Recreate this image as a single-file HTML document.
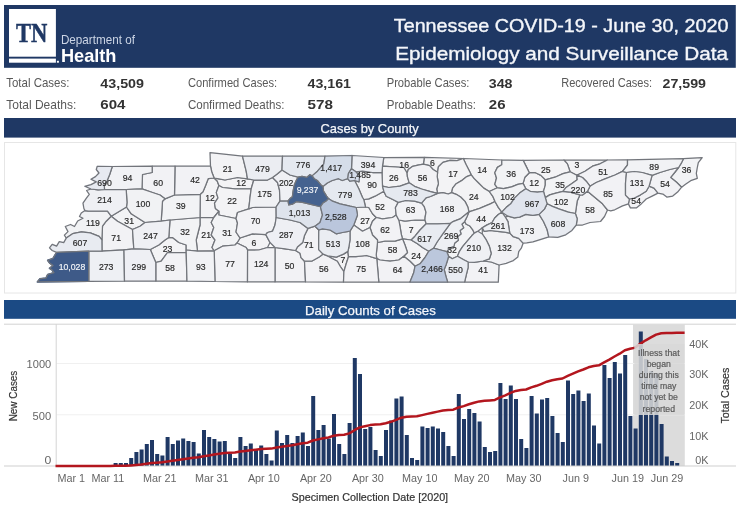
<!DOCTYPE html>
<html><head><meta charset="utf-8"><title>Tennessee COVID-19 - June 30, 2020</title>
<style>html,body{margin:0;padding:0;background:#fff}svg{display:block;will-change:transform;transform:translateZ(0)}</style></head>
<body>
<svg width="740" height="508" viewBox="0 0 740 508" font-family="Liberation Sans, sans-serif">
<rect width="740" height="508" fill="#fff"/>
<rect x="4" y="5" width="731.8" height="62.8" fill="#1f3864"/>
<rect x="9" y="9" width="46.9" height="47.7" fill="#fff"/>
<rect x="9" y="58.6" width="46.9" height="4.1" fill="#fff"/>
<rect x="56.9" y="60.8" width="2" height="1.9" fill="#fff"/>
<text x="15.9" y="41.8" font-family="Liberation Serif, serif" font-size="27" font-weight="bold" fill="#1f3864" stroke="#1f3864" stroke-width="0.45" textLength="31.4" lengthAdjust="spacingAndGlyphs">TN</text>
<text x="60.9" y="43.9" font-size="13.2" fill="#ccd5e5" textLength="74" lengthAdjust="spacingAndGlyphs">Department of</text>
<text x="60.9" y="62.2" font-size="18.2" font-weight="bold" fill="#fff" textLength="55.6" lengthAdjust="spacingAndGlyphs">Health</text>
<text x="393.8" y="32" font-size="18.2" fill="#f4f6fa" stroke="#f4f6fa" stroke-width="0.35" textLength="334.6" lengthAdjust="spacingAndGlyphs">Tennessee COVID-19 - June 30, 2020</text>
<text x="395.2" y="59.5" font-size="18.2" fill="#f4f6fa" stroke="#f4f6fa" stroke-width="0.35" textLength="332.8" lengthAdjust="spacingAndGlyphs">Epidemiology and Surveillance Data</text>
<text x="6.2" y="87.2" font-size="12.1" fill="#595959" textLength="63.2" lengthAdjust="spacingAndGlyphs">Total Cases:</text>
<text x="100.3" y="87.5" font-size="13" font-weight="bold" fill="#333" textLength="43.699999999999996" lengthAdjust="spacingAndGlyphs">43,509</text>
<text x="6.2" y="108.6" font-size="12.1" fill="#595959" textLength="70.2" lengthAdjust="spacingAndGlyphs">Total Deaths:</text>
<text x="100.3" y="108.6" font-size="13" font-weight="bold" fill="#333" textLength="25.2" lengthAdjust="spacingAndGlyphs">604</text>
<text x="187.89999999999998" y="87.2" font-size="12.1" fill="#595959" textLength="89.2" lengthAdjust="spacingAndGlyphs">Confirmed Cases:</text>
<text x="307.6" y="87.5" font-size="13" font-weight="bold" fill="#333" textLength="43.4" lengthAdjust="spacingAndGlyphs">43,161</text>
<text x="187.89999999999998" y="108.6" font-size="12.1" fill="#595959" textLength="96.5" lengthAdjust="spacingAndGlyphs">Confirmed Deaths:</text>
<text x="307.6" y="108.6" font-size="13" font-weight="bold" fill="#333" textLength="25.4" lengthAdjust="spacingAndGlyphs">578</text>
<text x="386.7" y="87.2" font-size="12.1" fill="#595959" textLength="82.7" lengthAdjust="spacingAndGlyphs">Probable Cases:</text>
<text x="488.8" y="87.5" font-size="13" font-weight="bold" fill="#333" textLength="23.7" lengthAdjust="spacingAndGlyphs">348</text>
<text x="386.7" y="108.6" font-size="12.1" fill="#595959" textLength="89.2" lengthAdjust="spacingAndGlyphs">Probable Deaths:</text>
<text x="488.8" y="108.6" font-size="13" font-weight="bold" fill="#333" textLength="16.7" lengthAdjust="spacingAndGlyphs">26</text>
<text x="561.2" y="87.2" font-size="12.1" fill="#595959" textLength="90.9" lengthAdjust="spacingAndGlyphs">Recovered Cases:</text>
<text x="662.6" y="87.5" font-size="13" font-weight="bold" fill="#333" textLength="43.4" lengthAdjust="spacingAndGlyphs">27,599</text>
<rect x="4" y="118" width="732" height="19.6" fill="#1f3864"/>
<text x="320.5" y="132.5" font-size="13" fill="#f4f6fa" stroke="#f4f6fa" stroke-width="0.25" textLength="98.2" lengthAdjust="spacingAndGlyphs">Cases by County</text>
<rect x="4.5" y="142.5" width="731.3" height="150.5" fill="#fff" stroke="#e6e6e6" stroke-width="1"/>
<g id="map" stroke-linejoin="round">
<path d="M56.6 252.3L88.8 251.2L88.8 281.3L37.4 281.9L39.8 278.9L46 278L47.7 274.5L53.9 272.7L52.2 270L49.5 268.3L53 265.6L49.5 262.9L47.7 260.3L53 258.5Z" fill="#3e5a88" stroke="#3e5a88" stroke-width="1.6"/>
<path d="M88.8 251.2L102 251.2L124 249.9L124.5 281.2L88.8 281.3Z" fill="#eef0f4" stroke="#eef0f4" stroke-width="1.6"/>
<path d="M124 249.9L133.8 248.8L150.3 249.5L155.8 262.5L155.8 281.2L124.5 281.2Z" fill="#eeeff4" stroke="#eeeff4" stroke-width="1.6"/>
<path d="M155.8 262.5L161.2 261.2L167.5 252.5L186.2 252.5L187 281.2L155.8 281.2Z" fill="#f2f2f5" stroke="#f2f2f5" stroke-width="1.6"/>
<path d="M186.2 250L197.5 251.2L214.2 250.8L215 281.5L187 281.2L186.2 252.5Z" fill="#f1f2f5" stroke="#f1f2f5" stroke-width="1.6"/>
<path d="M56.6 252.3L52.2 250.5L49.5 247.9L52.2 244.3L56.6 246.1L59.3 241.7L63.7 242.6L66.3 238.1L72.6 233.7L81.4 231.9L90.3 232.8L99.1 236.3L101.9 239.9L102 251.2L88.8 251.2Z" fill="#e8ebf1" stroke="#e8ebf1" stroke-width="1.6"/>
<path d="M66.3 238.1L64.4 235.1L68 231.6L65.3 226.5L70.6 224.5L74.5 226.5L77.7 221L83 218.3L79.5 216.5L81.3 213L85 210.6L88.4 211.2L97.2 211.2L107.5 211.2L111.2 216.2L106.2 221.2L102.5 226.2L101.9 239.9L99.1 236.3L90.3 232.8L81.4 231.9L72.6 233.7Z" fill="#f1f2f4" stroke="#f1f2f4" stroke-width="1.6"/>
<path d="M102.5 226.2L106.2 221.2L111.2 216.2L117.5 221.2L132.5 229.5L133.8 248.8L124 249.9L102 251.2L101.9 239.9Z" fill="#f2f2f5" stroke="#f2f2f5" stroke-width="1.6"/>
<path d="M111.2 216.2L126.5 207L131.2 213.8L145 222.5L140 226.2L132.5 229.5L117.5 221.2Z" fill="#f2f3f5" stroke="#f2f3f5" stroke-width="1.6"/>
<path d="M88.4 211.2L85 210.6L83.9 208.5L83 203.2L86.6 197.9L89.3 194.3L86.6 190.5L91 189L98.1 189.9L104.5 189.5L126.2 189.5L127 202.5L126.5 207L111.2 216.2L107.5 211.2L97.2 211.2Z" fill="#eff0f4" stroke="#eff0f4" stroke-width="1.6"/>
<path d="M97.2 166.3L112.3 166.5L109.6 174.8L107 181L104.3 185.5L104.5 189.5L98.1 189.9L91 189L84.8 186.3L91 184.6L96.3 181.9L91 179.3L95.5 176.6L99 173L96.3 169.5Z" fill="#e7eaf1" stroke="#e7eaf1" stroke-width="1.6"/>
<path d="M112.3 166.5L152.2 166.2L152.2 172.5L142.5 174.5L142 188.8L126.2 189.5L104.5 189.5L104.3 185.5L107 181L109.6 174.8Z" fill="#f1f2f5" stroke="#f1f2f5" stroke-width="1.6"/>
<path d="M152.2 166.2L175 166.2L174.5 195L165 198.8L160 195L152.5 192.5L142 188.8L142.5 174.5L152.2 172.5Z" fill="#f2f2f5" stroke="#f2f2f5" stroke-width="1.6"/>
<path d="M175 166.2L210.5 166.2L211.8 172L214.1 178L208.3 178.6L205.6 185.5L203 191.7L200.3 194.3L174.5 195Z" fill="#f2f2f5" stroke="#f2f2f5" stroke-width="1.6"/>
<path d="M126.2 189.5L142 188.8L152.5 192.5L160 195L165 198.8L162.5 201.2L161.2 221.2L145 222.5L131.2 213.8L126.5 207L127 202.5Z" fill="#f1f2f4" stroke="#f1f2f4" stroke-width="1.6"/>
<path d="M165 198.8L174.5 195L200.3 194.3L200 217.5L170 220L161.2 221.2L162.5 201.2Z" fill="#f2f3f5" stroke="#f2f3f5" stroke-width="1.6"/>
<path d="M145 222.5L161.2 221.2L170 220L168.8 237.5L165 240L158.8 245L150.3 249.5L133.8 248.8L132.5 229.5L140 226.2Z" fill="#eff0f4" stroke="#eff0f4" stroke-width="1.6"/>
<path d="M170 220L200 217.5L200 225L196.2 240L197.5 251.2L186.2 250L186.2 245L178.8 242.5L172.5 237.5L168.8 237.5Z" fill="#f2f3f5" stroke="#f2f3f5" stroke-width="1.6"/>
<path d="M150.3 249.5L158.8 245L165 240L168.8 237.5L172.5 237.5L178.8 242.5L186.2 245L186.2 250L186.2 252.5L167.5 252.5L161.2 261.2L155.8 262.5Z" fill="#f3f3f5" stroke="#f3f3f5" stroke-width="1.6"/>
<path d="M200 217.5L213.8 217.5L211.2 222.5L213.8 227.5L211.2 235L215 240L212 247.5L214.2 250.8L197.5 251.2L196.2 240L200 225Z" fill="#f3f3f5" stroke="#f3f3f5" stroke-width="1.6"/>
<path d="M200.3 194.3L203 191.7L205.6 185.5L208.3 178.6L214.1 178L217.2 181L218.9 185.5L216.3 192.6L218 197.9L214.5 203.2L215.4 208.5L218.9 211.2L213.8 217.5L200 217.5Z" fill="#f3f3f5" stroke="#f3f3f5" stroke-width="1.6"/>
<path d="M210 152.6L242.5 156.2L246.2 171.2L247.5 178.8L237.5 177.5L225 180L218.8 178.8L214.1 178L211.8 172L210.5 166.2Z" fill="#f3f3f5" stroke="#f3f3f5" stroke-width="1.6"/>
<path d="M242.5 156.2L282.5 156.2L282 170L277.5 173.8L272.5 177.5L267.5 180L253.8 180L247.5 178.8L246.2 171.2Z" fill="#ebedf2" stroke="#ebedf2" stroke-width="1.6"/>
<path d="M218.8 178.8L225 180L237.5 177.5L247.5 178.8L253.8 180L251.2 188.8L235 188.8L222.5 187.5L218.9 185.5L217.2 181L214.1 178Z" fill="#f3f3f5" stroke="#f3f3f5" stroke-width="1.6"/>
<path d="M218.9 185.5L222.5 187.5L235 188.8L251.2 188.8L250 197.5L248.8 208.8L237.5 212.5L236 218.5L218.8 215L218.9 211.2L215.4 208.5L214.5 203.2L218 197.9L216.3 192.6Z" fill="#f3f3f5" stroke="#f3f3f5" stroke-width="1.6"/>
<path d="M253.8 180L267.5 180L272.5 177.5L277.5 182.5L279.5 190L280 201.2L276.1 207L252.5 207.5L248.8 208.8L250 197.5L251.2 188.8Z" fill="#f0f1f4" stroke="#f0f1f4" stroke-width="1.6"/>
<path d="M282.5 156.2L325 156.2L323.8 163.8L317.5 171.2L312.1 175.9L309.9 174.7L306.7 177.4L302 176.3L298 177.2L290 175L282 170Z" fill="#e5e9f0" stroke="#e5e9f0" stroke-width="1.6"/>
<path d="M325 156.2L352 155.5L351.5 168.7L348.4 173.7L347.8 178.7L342.2 180.5L338.5 178.7L332.2 180.5L327.3 183L322.9 186.4L321 184.9L317.3 180.5L314.2 178.7L312.1 175.9L317.5 171.2L323.8 163.8Z" fill="#d5dde9" stroke="#d5dde9" stroke-width="1.6"/>
<path d="M296.2 180.5L298 177.2L302 176.3L306.7 177.4L309.9 174.7L312.1 175.9L314.2 178.7L317.3 180.5L321 184.9L322.9 186.4L323.5 191.1L326.6 196.1L328.5 198.6L326 201L322.9 202.9L320.4 206.6L317.3 206L309.9 204.2L302.4 202.3L296.2 201.7L292.4 204.2L288.7 204.8L288.1 201L290 198.6L292.4 196.7L293.1 191.1L294.3 184.9Z" fill="#45628f" stroke="#45628f" stroke-width="1.6"/>
<path d="M282 170L290 175L298 177.2L296.2 180.5L294.3 184.9L293.1 191.1L292.4 196.7L290 198.6L288.1 201L283.8 201.2L280 201.2L279.5 190L277.5 182.5L272.5 177.5L277.5 173.8Z" fill="#eff0f4" stroke="#eff0f4" stroke-width="1.6"/>
<path d="M280 201.2L283.8 201.2L288.1 201L288.7 204.8L292.4 204.2L296.2 201.7L302.4 202.3L309.9 204.2L317.3 206L320.4 206.6L322.5 215L320 222.5L315 226.2L308 228.4L300 222.5L290 220L276.2 217.5L276.1 207Z" fill="#dee3ec" stroke="#dee3ec" stroke-width="1.6"/>
<path d="M320.4 206.6L322.9 202.9L326 201L328.5 198.6L332.5 201.2L340 203.8L350 206.2L356.2 207.5L357.5 215L353.8 225L350 231.2L342.5 232.5L336.2 233.8L330 230L322.5 228.8L318.8 230L315 226.2L320 222.5L322.5 215Z" fill="#bac6dc" stroke="#bac6dc" stroke-width="1.6"/>
<path d="M322.9 186.4L327.3 183L332.2 180.5L338.5 178.7L342.2 180.5L347.8 178.7L349.7 181.1L354.6 180.5L358.8 188.8L362.5 197.5L363.8 199.5L365.5 207L356.2 207.5L350 206.2L340 203.8L332.5 201.2L328.5 198.6L326.6 196.1L323.5 191.1Z" fill="#e5e9f0" stroke="#e5e9f0" stroke-width="1.6"/>
<path d="M351.5 168.7L355.9 171.8L359.6 176.2L359 181.8L354.6 180.5L349.7 181.1L347.8 178.7L348.4 173.7Z" fill="#d3dbe9" stroke="#d3dbe9" stroke-width="1.6"/>
<path d="M352 155.5L383.8 157.5L382.5 166.2L382 172.5L372.5 172.5L362.5 171.2L355.9 171.8L351.5 168.7Z" fill="#eceef3" stroke="#eceef3" stroke-width="1.6"/>
<path d="M355.9 171.8L362.5 171.2L372.5 172.5L382 172.5L382.5 186.2L383.8 191.2L375 196.2L368.8 198.8L363.8 199.5L362.5 197.5L358.8 188.8L354.6 180.5L359 181.8L359.6 176.2Z" fill="#f1f2f5" stroke="#f1f2f5" stroke-width="1.6"/>
<path d="M363.8 199.5L368.8 198.8L375 196.2L383.8 191.2L386.2 196.2L393.8 200L398.2 202.4L395.4 207.7L396.2 215L392.5 217.5L382.5 218.8L376.2 217.5L372.5 213.8L368.8 207.5L365.5 207Z" fill="#f2f2f5" stroke="#f2f2f5" stroke-width="1.6"/>
<path d="M356.2 207.5L365.5 207L368.8 207.5L372.5 213.8L376.2 217.5L372.5 221.2L370 227.5L362.5 231.2L353.8 225L357.5 215Z" fill="#f3f3f5" stroke="#f3f3f5" stroke-width="1.6"/>
<path d="M350 231.2L353.8 225L362.5 231.2L370 227.5L372.5 235L377.5 240L377.5 242.5L376.2 255L376.8 258.7L366.6 255.5L355.9 256.7L348.5 256.7L347.9 251.4L348.8 247.5L350 240Z" fill="#f1f2f4" stroke="#f1f2f4" stroke-width="1.6"/>
<path d="M318.8 230L322.5 228.8L330 230L336.2 233.8L342.5 232.5L350 231.2L350 240L348.8 247.5L347.9 251.4L343.5 254.1L336.4 257.1L327.6 255.9L323.1 254.1L318.7 249.6L318.7 240Z" fill="#eaedf2" stroke="#eaedf2" stroke-width="1.6"/>
<path d="M308 228.4L315 226.2L318.8 230L318.7 240L318.7 249.6L323.1 254.1L319.6 256.7L311.6 261.2L304.5 261.2L301 257.6L300 253.2L295.6 250.5L297.4 247L302.7 242.6L304.5 235.5Z" fill="#f2f2f5" stroke="#f2f2f5" stroke-width="1.6"/>
<path d="M276.2 217.5L290 220L300 222.5L308 228.4L304.5 235.5L302.7 242.6L297.4 247L295.6 250.5L285 248.8L275 247.5L270 242.5L265.8 234.6L267.5 232.5L272.5 231.2L275 225Z" fill="#eeeff4" stroke="#eeeff4" stroke-width="1.6"/>
<path d="M248.8 208.8L252.5 207.5L276.1 207L276.2 217.5L275 225L272.5 231.2L267.5 232.5L265.8 234.6L252.5 233.8L240 238L236 232L237.5 223L236 218.5L237.5 212.5Z" fill="#f2f2f5" stroke="#f2f2f5" stroke-width="1.6"/>
<path d="M213.8 217.5L218.9 211.2L218.8 215L236 218.5L237.5 223L236 232L240 238L237 243L235 245L222.5 246.2L214.2 250.8L212 247.5L215 240L211.2 235L213.8 227.5L211.2 222.5Z" fill="#f2f3f5" stroke="#f2f3f5" stroke-width="1.6"/>
<path d="M240 238L252.5 233.8L265.8 234.6L270 242.5L267.5 247.5L258.8 250L247.6 250.1L246.2 247.5L237 243Z" fill="#f3f3f5" stroke="#f3f3f5" stroke-width="1.6"/>
<path d="M214.2 250.8L222.5 246.2L235 245L237 243L246.2 247.5L247.6 250.1L247.5 281.8L215 281.5Z" fill="#f2f2f5" stroke="#f2f2f5" stroke-width="1.6"/>
<path d="M247.6 250.1L258.8 250L267.5 247.5L275 247.5L275 281.8L247.5 281.8Z" fill="#f1f1f4" stroke="#f1f1f4" stroke-width="1.6"/>
<path d="M275 247.5L285 248.8L295.6 250.5L300 253.2L301 257.6L304.5 261.2L305.5 281.8L275 281.8Z" fill="#f2f2f5" stroke="#f2f2f5" stroke-width="1.6"/>
<path d="M304.5 261.2L311.6 261.2L319.6 256.7L323.1 254.1L327.6 255.9L332 258.5L337.3 261.2L340.3 266.5L343.9 271.6L343.5 282L305.5 281.8Z" fill="#f2f2f5" stroke="#f2f2f5" stroke-width="1.6"/>
<path d="M327.6 255.9L336.4 257.1L343.5 254.1L347.9 251.4L348.5 256.7L346.2 263.8L343.9 271.6L340.3 266.5L337.3 261.2L332 258.5Z" fill="#f3f3f5" stroke="#f3f3f5" stroke-width="1.6"/>
<path d="M343.9 271.6L346.2 263.8L348.5 256.7L355.9 256.7L366.6 255.5L376.8 258.7L378.8 282L343.5 282Z" fill="#f2f2f5" stroke="#f2f2f5" stroke-width="1.6"/>
<path d="M377.5 242.5L385 241.2L395 241.2L402.5 238.8L405 245L407.5 252.5L403.8 256.2L398.8 260L390 261.2L380 260L376.8 258.7L376.2 255Z" fill="#f2f2f5" stroke="#f2f2f5" stroke-width="1.6"/>
<path d="M376.8 258.7L380 260L390 261.2L398.8 260L403.8 256.2L410 261.2L415 266.2L413.8 272.5L410 282.1L378.8 282Z" fill="#f2f2f5" stroke="#f2f2f5" stroke-width="1.6"/>
<path d="M402.5 238.8L411.2 240L417.5 243.8L422.5 247.5L428.8 251.2L425 257.5L420 263.8L415 266.2L410 261.2L403.8 256.2L407.5 252.5L405 245Z" fill="#f3f3f5" stroke="#f3f3f5" stroke-width="1.6"/>
<path d="M376.2 217.5L382.5 218.8L392.5 217.5L396.2 215L398.8 220L400 226.2L401.2 233.8L402.5 238.8L395 241.2L385 241.2L377.5 242.5L377.5 240L372.5 235L370 227.5L372.5 221.2Z" fill="#f2f2f5" stroke="#f2f2f5" stroke-width="1.6"/>
<path d="M398.8 220L405 221.2L415 220L425 220L426.2 223.8L420 230L415 236.2L411.2 240L402.5 238.8L401.2 233.8L400 226.2Z" fill="#f3f3f5" stroke="#f3f3f5" stroke-width="1.6"/>
<path d="M426.2 223.8L430 223.8L437.5 223.8L450.4 223.4L443.3 233.1L437.1 242L433.5 248.2L428.8 251.2L422.5 247.5L417.5 243.8L411.2 240L415 236.2L420 230Z" fill="#e8ebf1" stroke="#e8ebf1" stroke-width="1.6"/>
<path d="M428.8 251.2L433.5 248.2L440.6 250L446.8 251.7L448.6 256.2L447.7 259.7L446 265L444.2 269.5L446 276.6L447.7 282.2L410 282.1L413.8 272.5L415 266.2L420 263.8L425 257.5Z" fill="#bbc7dc" stroke="#bbc7dc" stroke-width="1.6"/>
<path d="M450.4 223.4L453 221.6L460.1 218.9L469 211.8L467.2 216.3L464.6 221.6L461.9 224.3L463.7 227.8L460.1 230.5L461 234L457.5 236.7L458.4 240.2L454.8 242.9L453.9 246.4L449.5 248.2L446.8 251.7L440.6 250L433.5 248.2L437.1 242L443.3 233.1Z" fill="#eef0f4" stroke="#eef0f4" stroke-width="1.6"/>
<path d="M464.6 221.6L466.3 224.3L469.9 226L472.6 229.6L474.3 233.1L471.7 235.8L467.2 241.1L462.8 246.4L459.3 251.7L457.5 256.2L452.2 258.8L448.6 256.2L446.8 251.7L449.5 248.2L453.9 246.4L454.8 242.9L458.4 240.2L457.5 236.7L461 234L460.1 230.5L463.7 227.8L461.9 224.3Z" fill="#f2f3f5" stroke="#f2f3f5" stroke-width="1.6"/>
<path d="M448.6 256.2L452.2 258.8L457.5 256.2L463.7 259.7L468.1 262L468.1 267.7L466.3 274.8L464.6 282.2L447.7 282.2L446 276.6L444.2 269.5L446 265L447.7 259.7Z" fill="#e9ecf2" stroke="#e9ecf2" stroke-width="1.6"/>
<path d="M468.1 262L474.3 262.4L483.2 261L491.2 262L499.1 265L498.3 282.2L464.6 282.2L466.3 274.8L468.1 267.7Z" fill="#f2f2f5" stroke="#f2f2f5" stroke-width="1.6"/>
<path d="M474.3 233.1L477.9 231.3L482.3 234L485.9 239.3L489.4 246.4L491.2 253.5L489.4 258.8L483.2 261L474.3 262.4L468.1 262L463.7 259.7L457.5 256.2L459.3 251.7L462.8 246.4L467.2 241.1L471.7 235.8Z" fill="#eff0f4" stroke="#eff0f4" stroke-width="1.6"/>
<path d="M482.3 234L482.3 227.8L484.1 231.3L490.3 230.5L497.4 231.3L504.5 232.2L509.8 233.1L513.3 236.7L518.7 238.4L523.1 243.2L521.3 248.2L518.7 251.7L517.8 257.1L513.3 260.6L506.2 263.3L499.1 265L491.2 262L483.2 261L489.4 258.8L491.2 253.5L489.4 246.4L485.9 239.3Z" fill="#f1f1f4" stroke="#f1f1f4" stroke-width="1.6"/>
<path d="M514.3 217.9L519.6 217.1L525.8 214.4L532.9 215.3L539.1 214.4L543.5 221.5L547.1 229.5L548.8 236.9L541.7 239.2L532.9 241.9L526.7 242.8L523.1 243.2L518.7 238.4L513.3 236.7L509.8 233.1L508.9 227.8L508 221.6L505.4 217.2L508 216.2Z" fill="#f0f1f4" stroke="#f0f1f4" stroke-width="1.6"/>
<path d="M492.1 222.5L494.7 218L498.3 214.5L501.8 212.2L505.4 217.2L508 221.6L508.9 227.8L509.8 233.1L504.5 232.2L497.4 231.3L490.3 230.5L484.1 231.3L482.3 227.8L486.7 225.1Z" fill="#eef0f4" stroke="#eef0f4" stroke-width="1.6"/>
<path d="M525.8 188.7L530.2 191.3L537.3 192.2L543.5 191.3L545.3 197.6L547.1 203.8L544.4 209.1L539.1 214.4L532.9 215.3L525.8 214.4L519.6 217.1L514.3 217.9L508 216.2L501.8 212.2L506.3 207.3L510.7 203.8L514.3 198.4L519.6 193.1Z" fill="#e0e4ed" stroke="#e0e4ed" stroke-width="1.6"/>
<path d="M489.3 191.5L497.4 187.8L503.6 188.7L511.6 186.9L517.8 184.3L523.1 183.4L525.8 188.7L519.6 193.1L514.3 198.4L510.7 203.8L506.3 207.3L501.8 212.2L498.3 207.4L495 201.5L493 196.7Z" fill="#f1f2f4" stroke="#f1f2f4" stroke-width="1.6"/>
<path d="M469 211.8L479.6 208.3L490.3 203.9L495 201.5L498.3 207.4L501.8 212.2L498.3 214.5L494.7 218L492.1 222.5L486.7 225.1L482.3 227.8L477.9 231.3L474.3 233.1L472.6 229.6L469.9 226L466.3 224.3L464.6 221.6L467.2 216.3Z" fill="#f2f2f5" stroke="#f2f2f5" stroke-width="1.6"/>
<path d="M471.2 174.8L473.9 178.4L478.3 182.8L483.7 188.1L489.3 191.5L493 196.7L495 201.5L490.3 203.9L479.6 208.3L469 211.8L467.7 206.7L465 201.4L460.6 197L456.2 194.3L451.7 192.6L452.6 188.1L456.2 183.7L462.4 180.1L466.8 176.6Z" fill="#f3f3f5" stroke="#f3f3f5" stroke-width="1.6"/>
<path d="M437.6 193.4L442.9 192.6L448.2 194L451.7 192.6L456.2 194.3L460.6 197L465 201.4L467.7 206.7L469 211.8L460.1 218.9L453 221.6L450.4 223.4L437.5 223.8L430 223.8L426.2 223.8L425 220L425.1 217.4L426 212.1L424.3 206.7L421.6 203.2L426 197.9L430.5 196.5Z" fill="#f0f1f4" stroke="#f0f1f4" stroke-width="1.6"/>
<path d="M463.3 158.5L465.9 164.2L469.5 171.3L471.2 174.8L466.8 176.6L462.4 180.1L456.2 183.7L452.6 188.1L451.7 192.6L448.2 194L442.9 192.6L437.6 193.4L436.7 189L438.4 183.7L437.2 176.6L437.6 172.2L438.4 166.8L442.9 162.4L450 160.3L457.1 160.6Z" fill="#f3f3f5" stroke="#f3f3f5" stroke-width="1.6"/>
<path d="M463.3 158.5L501.8 160L501.8 164.8L497.4 167.4L494.8 172.7L496.5 178L494.8 184.3L497.4 187.8L489.3 191.5L483.7 188.1L478.3 182.8L473.9 178.4L471.2 174.8L469.5 171.3L465.9 164.2Z" fill="#f3f3f5" stroke="#f3f3f5" stroke-width="1.6"/>
<path d="M501.8 160L523.1 160.3L525.8 165.6L529.3 172.7L524.9 177.2L523.1 183.4L517.8 184.3L511.6 186.9L503.6 188.7L497.4 187.8L494.8 184.3L496.5 178L494.8 172.7L497.4 167.4L501.8 164.8Z" fill="#f2f3f5" stroke="#f2f3f5" stroke-width="1.6"/>
<path d="M529.3 172.7L535.5 172.7L540.9 175.4L545.3 179.8L545.3 185.1L543.5 191.3L537.3 192.2L530.2 191.3L525.8 188.7L523.1 183.4L524.9 177.2Z" fill="#f3f3f5" stroke="#f3f3f5" stroke-width="1.6"/>
<path d="M523.1 160.3L563.9 160L567.4 163.9L570.1 171.8L563 173.6L555 177.2L545.3 179.8L540.9 175.4L535.5 172.7L529.3 172.7L525.8 165.6Z" fill="#f3f3f5" stroke="#f3f3f5" stroke-width="1.6"/>
<path d="M563.9 160L607.5 160L600 163.8L592.5 166.2L585 171.2L576.8 175.2L570.1 171.8L567.4 163.9Z" fill="#f3f3f5" stroke="#f3f3f5" stroke-width="1.6"/>
<path d="M607.5 160L627.5 159.8L627.5 165L622.5 171.4L615 175L605 178.8L596.2 182.5L590 186.2L586.2 181.2L582.5 177.5L576.8 175.2L585 171.2L592.5 166.2L600 163.8Z" fill="#f2f2f5" stroke="#f2f2f5" stroke-width="1.6"/>
<path d="M545.3 179.8L555 177.2L563 173.6L570.1 171.8L576.8 175.2L577.2 179.8L571.9 183.4L565.7 187.8L563 191.3L555.9 193.1L549.7 194.9L545.3 197.6L543.5 191.3L545.3 185.1Z" fill="#f2f3f5" stroke="#f2f3f5" stroke-width="1.6"/>
<path d="M571.9 183.4L577.2 179.8L576.8 175.2L582.5 177.5L586.2 181.2L590 186.2L587.5 191.2L582.5 195L579.9 194.9L570.1 192.2L563 191.3L565.7 187.8Z" fill="#eff0f4" stroke="#eff0f4" stroke-width="1.6"/>
<path d="M545.3 197.6L549.7 194.9L555.9 193.1L563 191.3L570.1 192.2L579.9 194.9L577.2 201.1L576.3 207.3L575.4 213.5L568.3 212.1L559.5 209.1L552.4 206.4L547.1 203.8Z" fill="#f1f2f4" stroke="#f1f2f4" stroke-width="1.6"/>
<path d="M539.1 214.4L544.4 209.1L547.1 203.8L552.4 206.4L559.5 209.1L568.3 212.1L575.4 213.5L577.2 218.8L576.3 225L571.9 230.4L565.7 234.8L557.7 237.4L548.8 236.9L547.1 229.5L543.5 221.5Z" fill="#e8ebf1" stroke="#e8ebf1" stroke-width="1.6"/>
<path d="M575.4 213.5L576.3 207.3L577.2 201.1L579.9 194.9L582.5 195L587.5 191.2L595 197.5L602.5 203.8L607.5 210L604.5 216.5L600.5 221.5L590 222.5L582.5 225L576.3 225L577.2 218.8Z" fill="#f2f2f5" stroke="#f2f2f5" stroke-width="1.6"/>
<path d="M587.5 191.2L590 186.2L596.2 182.5L605 178.8L615 175L622.5 171.4L626.5 172.5L625.5 183.3L625.5 195.1L629.4 199L628.4 203.9L622.5 205.9L614.7 209.8L610.7 210.8L607.5 210L602.5 203.8L595 197.5Z" fill="#f2f2f5" stroke="#f2f2f5" stroke-width="1.6"/>
<path d="M627.5 159.8L683.5 158.7L681.6 162.6L678.6 167.5L669.8 169.5L659.9 172.5L652.1 175.4L642.2 172.5L634.3 171.5L626.5 172.5L622.5 171.4L627.5 165Z" fill="#f1f2f5" stroke="#f1f2f5" stroke-width="1.6"/>
<path d="M626.5 172.5L634.3 171.5L642.2 172.5L652.1 175.4L649.1 186.2L646.2 191.2L640.2 195.1L634.3 198L629.4 199L625.5 195.1L625.5 183.3Z" fill="#f1f1f4" stroke="#f1f1f4" stroke-width="1.6"/>
<path d="M629.4 199L634.3 198L640.2 195.1L646.2 191.2L649.1 186.2L654 188.2L658 193.1L652.1 196.1L646.2 199L641.2 203.9L636.3 207.9L630.4 207.9L628.4 203.9Z" fill="#f2f2f5" stroke="#f2f2f5" stroke-width="1.6"/>
<path d="M652.1 175.4L659.9 172.5L669.8 169.5L678.6 167.5L674.7 172.5L670.7 177.4L676.6 182.3L681.6 187.2L677.6 192.1L672.7 196.1L666.8 197.1L662.9 194.1L658 193.1L654 188.2L649.1 186.2Z" fill="#f2f2f5" stroke="#f2f2f5" stroke-width="1.6"/>
<path d="M683.5 158.7L702.2 157.7L698.3 162.6L697.3 167.5L696.3 173.4L697.3 178.4L691.4 180.3L685.5 184.3L681.6 187.2L676.6 182.3L670.7 177.4L674.7 172.5L678.6 167.5L681.6 162.6Z" fill="#f2f3f5" stroke="#f2f3f5" stroke-width="1.6"/>
<path d="M383.8 157.5L424.3 157.4L423.4 164.2L418 165.1L412.7 166.3L408.3 169.5L407.1 173L403.8 167.5L382.5 166.2Z" fill="#f3f3f5" stroke="#f3f3f5" stroke-width="1.6"/>
<path d="M424.3 157.4L463.3 158.5L457.1 160.6L450 160.3L442.9 162.4L438.4 166.8L437.6 172.2L433.1 169.5L429.6 165.6L423.4 164.2Z" fill="#f3f3f5" stroke="#f3f3f5" stroke-width="1.6"/>
<path d="M382.5 166.2L403.8 167.5L407.1 173L407.4 176.6L409.2 182.8L400 186.2L388.8 187.5L382.5 186.2L382 172.5Z" fill="#f3f3f5" stroke="#f3f3f5" stroke-width="1.6"/>
<path d="M408.3 169.5L412.7 166.3L418 165.1L423.4 164.2L429.6 165.6L433.1 169.5L437.6 172.2L437.2 176.6L438.4 183.7L436.7 189L437.6 193.4L430.5 191.7L421.6 189L414.5 186.3L409.2 182.8L407.4 176.6L407.1 173Z" fill="#f2f2f5" stroke="#f2f2f5" stroke-width="1.6"/>
<path d="M382.5 186.2L388.8 187.5L400 186.2L409.2 182.8L414.5 186.3L421.6 189L430.5 191.7L437.6 193.4L430.5 196.5L426 197.9L421.6 203.2L414.5 201.1L405.6 200.5L398.2 202.4L393.8 200L386.2 196.2L383.8 191.2Z" fill="#e5e9f0" stroke="#e5e9f0" stroke-width="1.6"/>
<path d="M395.4 207.7L398.2 202.4L405.6 200.5L414.5 201.1L421.6 203.2L424.3 206.7L426 212.1L425.1 217.4L425 220L415 220L405 221.2L398.8 220L396.2 215Z" fill="#f2f2f5" stroke="#f2f2f5" stroke-width="1.6"/>
<path d="M563.9 160L607.5 160L600 163.8L592.5 166.2L585 171.2L576.8 175.2L570.1 171.8L567.4 163.9Z" fill="#f3f3f5" stroke="#72757b" stroke-width="1.25"/>
<path d="M240 238L252.5 233.8L265.8 234.6L270 242.5L267.5 247.5L258.8 250L247.6 250.1L246.2 247.5L237 243Z" fill="#f3f3f5" stroke="#72757b" stroke-width="1.25"/>
<path d="M424.3 157.4L463.3 158.5L457.1 160.6L450 160.3L442.9 162.4L438.4 166.8L437.6 172.2L433.1 169.5L429.6 165.6L423.4 164.2Z" fill="#f3f3f5" stroke="#72757b" stroke-width="1.25"/>
<path d="M327.6 255.9L336.4 257.1L343.5 254.1L347.9 251.4L348.5 256.7L346.2 263.8L343.9 271.6L340.3 266.5L337.3 261.2L332 258.5Z" fill="#f3f3f5" stroke="#72757b" stroke-width="1.25"/>
<path d="M398.8 220L405 221.2L415 220L425 220L426.2 223.8L420 230L415 236.2L411.2 240L402.5 238.8L401.2 233.8L400 226.2Z" fill="#f3f3f5" stroke="#72757b" stroke-width="1.25"/>
<path d="M200.3 194.3L203 191.7L205.6 185.5L208.3 178.6L214.1 178L217.2 181L218.9 185.5L216.3 192.6L218 197.9L214.5 203.2L215.4 208.5L218.9 211.2L213.8 217.5L200 217.5Z" fill="#f3f3f5" stroke="#72757b" stroke-width="1.25"/>
<path d="M218.8 178.8L225 180L237.5 177.5L247.5 178.8L253.8 180L251.2 188.8L235 188.8L222.5 187.5L218.9 185.5L217.2 181L214.1 178Z" fill="#f3f3f5" stroke="#72757b" stroke-width="1.25"/>
<path d="M529.3 172.7L535.5 172.7L540.9 175.4L545.3 179.8L545.3 185.1L543.5 191.3L537.3 192.2L530.2 191.3L525.8 188.7L523.1 183.4L524.9 177.2Z" fill="#f3f3f5" stroke="#72757b" stroke-width="1.25"/>
<path d="M463.3 158.5L501.8 160L501.8 164.8L497.4 167.4L494.8 172.7L496.5 178L494.8 184.3L497.4 187.8L489.3 191.5L483.7 188.1L478.3 182.8L473.9 178.4L471.2 174.8L469.5 171.3L465.9 164.2Z" fill="#f3f3f5" stroke="#72757b" stroke-width="1.25"/>
<path d="M383.8 157.5L424.3 157.4L423.4 164.2L418 165.1L412.7 166.3L408.3 169.5L407.1 173L403.8 167.5L382.5 166.2Z" fill="#f3f3f5" stroke="#72757b" stroke-width="1.25"/>
<path d="M463.3 158.5L465.9 164.2L469.5 171.3L471.2 174.8L466.8 176.6L462.4 180.1L456.2 183.7L452.6 188.1L451.7 192.6L448.2 194L442.9 192.6L437.6 193.4L436.7 189L438.4 183.7L437.2 176.6L437.6 172.2L438.4 166.8L442.9 162.4L450 160.3L457.1 160.6Z" fill="#f3f3f5" stroke="#72757b" stroke-width="1.25"/>
<path d="M200 217.5L213.8 217.5L211.2 222.5L213.8 227.5L211.2 235L215 240L212 247.5L214.2 250.8L197.5 251.2L196.2 240L200 225Z" fill="#f3f3f5" stroke="#72757b" stroke-width="1.25"/>
<path d="M210 152.6L242.5 156.2L246.2 171.2L247.5 178.8L237.5 177.5L225 180L218.8 178.8L214.1 178L211.8 172L210.5 166.2Z" fill="#f3f3f5" stroke="#72757b" stroke-width="1.25"/>
<path d="M218.9 185.5L222.5 187.5L235 188.8L251.2 188.8L250 197.5L248.8 208.8L237.5 212.5L236 218.5L218.8 215L218.9 211.2L215.4 208.5L214.5 203.2L218 197.9L216.3 192.6Z" fill="#f3f3f5" stroke="#72757b" stroke-width="1.25"/>
<path d="M150.3 249.5L158.8 245L165 240L168.8 237.5L172.5 237.5L178.8 242.5L186.2 245L186.2 250L186.2 252.5L167.5 252.5L161.2 261.2L155.8 262.5Z" fill="#f3f3f5" stroke="#72757b" stroke-width="1.25"/>
<path d="M402.5 238.8L411.2 240L417.5 243.8L422.5 247.5L428.8 251.2L425 257.5L420 263.8L415 266.2L410 261.2L403.8 256.2L407.5 252.5L405 245Z" fill="#f3f3f5" stroke="#72757b" stroke-width="1.25"/>
<path d="M471.2 174.8L473.9 178.4L478.3 182.8L483.7 188.1L489.3 191.5L493 196.7L495 201.5L490.3 203.9L479.6 208.3L469 211.8L467.7 206.7L465 201.4L460.6 197L456.2 194.3L451.7 192.6L452.6 188.1L456.2 183.7L462.4 180.1L466.8 176.6Z" fill="#f3f3f5" stroke="#72757b" stroke-width="1.25"/>
<path d="M523.1 160.3L563.9 160L567.4 163.9L570.1 171.8L563 173.6L555 177.2L545.3 179.8L540.9 175.4L535.5 172.7L529.3 172.7L525.8 165.6Z" fill="#f3f3f5" stroke="#72757b" stroke-width="1.25"/>
<path d="M382.5 166.2L403.8 167.5L407.1 173L407.4 176.6L409.2 182.8L400 186.2L388.8 187.5L382.5 186.2L382 172.5Z" fill="#f3f3f5" stroke="#72757b" stroke-width="1.25"/>
<path d="M356.2 207.5L365.5 207L368.8 207.5L372.5 213.8L376.2 217.5L372.5 221.2L370 227.5L362.5 231.2L353.8 225L357.5 215Z" fill="#f3f3f5" stroke="#72757b" stroke-width="1.25"/>
<path d="M111.2 216.2L126.5 207L131.2 213.8L145 222.5L140 226.2L132.5 229.5L117.5 221.2Z" fill="#f2f3f5" stroke="#72757b" stroke-width="1.25"/>
<path d="M213.8 217.5L218.9 211.2L218.8 215L236 218.5L237.5 223L236 232L240 238L237 243L235 245L222.5 246.2L214.2 250.8L212 247.5L215 240L211.2 235L213.8 227.5L211.2 222.5Z" fill="#f2f3f5" stroke="#72757b" stroke-width="1.25"/>
<path d="M170 220L200 217.5L200 225L196.2 240L197.5 251.2L186.2 250L186.2 245L178.8 242.5L172.5 237.5L168.8 237.5Z" fill="#f2f3f5" stroke="#72757b" stroke-width="1.25"/>
<path d="M464.6 221.6L466.3 224.3L469.9 226L472.6 229.6L474.3 233.1L471.7 235.8L467.2 241.1L462.8 246.4L459.3 251.7L457.5 256.2L452.2 258.8L448.6 256.2L446.8 251.7L449.5 248.2L453.9 246.4L454.8 242.9L458.4 240.2L457.5 236.7L461 234L460.1 230.5L463.7 227.8L461.9 224.3Z" fill="#f2f3f5" stroke="#72757b" stroke-width="1.25"/>
<path d="M545.3 179.8L555 177.2L563 173.6L570.1 171.8L576.8 175.2L577.2 179.8L571.9 183.4L565.7 187.8L563 191.3L555.9 193.1L549.7 194.9L545.3 197.6L543.5 191.3L545.3 185.1Z" fill="#f2f3f5" stroke="#72757b" stroke-width="1.25"/>
<path d="M501.8 160L523.1 160.3L525.8 165.6L529.3 172.7L524.9 177.2L523.1 183.4L517.8 184.3L511.6 186.9L503.6 188.7L497.4 187.8L494.8 184.3L496.5 178L494.8 172.7L497.4 167.4L501.8 164.8Z" fill="#f2f3f5" stroke="#72757b" stroke-width="1.25"/>
<path d="M683.5 158.7L702.2 157.7L698.3 162.6L697.3 167.5L696.3 173.4L697.3 178.4L691.4 180.3L685.5 184.3L681.6 187.2L676.6 182.3L670.7 177.4L674.7 172.5L678.6 167.5L681.6 162.6Z" fill="#f2f3f5" stroke="#72757b" stroke-width="1.25"/>
<path d="M165 198.8L174.5 195L200.3 194.3L200 217.5L170 220L161.2 221.2L162.5 201.2Z" fill="#f2f3f5" stroke="#72757b" stroke-width="1.25"/>
<path d="M468.1 262L474.3 262.4L483.2 261L491.2 262L499.1 265L498.3 282.2L464.6 282.2L466.3 274.8L468.1 267.7Z" fill="#f2f2f5" stroke="#72757b" stroke-width="1.25"/>
<path d="M175 166.2L210.5 166.2L211.8 172L214.1 178L208.3 178.6L205.6 185.5L203 191.7L200.3 194.3L174.5 195Z" fill="#f2f2f5" stroke="#72757b" stroke-width="1.25"/>
<path d="M469 211.8L479.6 208.3L490.3 203.9L495 201.5L498.3 207.4L501.8 212.2L498.3 214.5L494.7 218L492.1 222.5L486.7 225.1L482.3 227.8L477.9 231.3L474.3 233.1L472.6 229.6L469.9 226L466.3 224.3L464.6 221.6L467.2 216.3Z" fill="#f2f2f5" stroke="#72757b" stroke-width="1.25"/>
<path d="M275 247.5L285 248.8L295.6 250.5L300 253.2L301 257.6L304.5 261.2L305.5 281.8L275 281.8Z" fill="#f2f2f5" stroke="#72757b" stroke-width="1.25"/>
<path d="M607.5 160L627.5 159.8L627.5 165L622.5 171.4L615 175L605 178.8L596.2 182.5L590 186.2L586.2 181.2L582.5 177.5L576.8 175.2L585 171.2L592.5 166.2L600 163.8Z" fill="#f2f2f5" stroke="#72757b" stroke-width="1.25"/>
<path d="M363.8 199.5L368.8 198.8L375 196.2L383.8 191.2L386.2 196.2L393.8 200L398.2 202.4L395.4 207.7L396.2 215L392.5 217.5L382.5 218.8L376.2 217.5L372.5 213.8L368.8 207.5L365.5 207Z" fill="#f2f2f5" stroke="#72757b" stroke-width="1.25"/>
<path d="M629.4 199L634.3 198L640.2 195.1L646.2 191.2L649.1 186.2L654 188.2L658 193.1L652.1 196.1L646.2 199L641.2 203.9L636.3 207.9L630.4 207.9L628.4 203.9Z" fill="#f2f2f5" stroke="#72757b" stroke-width="1.25"/>
<path d="M652.1 175.4L659.9 172.5L669.8 169.5L678.6 167.5L674.7 172.5L670.7 177.4L676.6 182.3L681.6 187.2L677.6 192.1L672.7 196.1L666.8 197.1L662.9 194.1L658 193.1L654 188.2L649.1 186.2Z" fill="#f2f2f5" stroke="#72757b" stroke-width="1.25"/>
<path d="M304.5 261.2L311.6 261.2L319.6 256.7L323.1 254.1L327.6 255.9L332 258.5L337.3 261.2L340.3 266.5L343.9 271.6L343.5 282L305.5 281.8Z" fill="#f2f2f5" stroke="#72757b" stroke-width="1.25"/>
<path d="M408.3 169.5L412.7 166.3L418 165.1L423.4 164.2L429.6 165.6L433.1 169.5L437.6 172.2L437.2 176.6L438.4 183.7L436.7 189L437.6 193.4L430.5 191.7L421.6 189L414.5 186.3L409.2 182.8L407.4 176.6L407.1 173Z" fill="#f2f2f5" stroke="#72757b" stroke-width="1.25"/>
<path d="M155.8 262.5L161.2 261.2L167.5 252.5L186.2 252.5L187 281.2L155.8 281.2Z" fill="#f2f2f5" stroke="#72757b" stroke-width="1.25"/>
<path d="M377.5 242.5L385 241.2L395 241.2L402.5 238.8L405 245L407.5 252.5L403.8 256.2L398.8 260L390 261.2L380 260L376.8 258.7L376.2 255Z" fill="#f2f2f5" stroke="#72757b" stroke-width="1.25"/>
<path d="M575.4 213.5L576.3 207.3L577.2 201.1L579.9 194.9L582.5 195L587.5 191.2L595 197.5L602.5 203.8L607.5 210L604.5 216.5L600.5 221.5L590 222.5L582.5 225L576.3 225L577.2 218.8Z" fill="#f2f2f5" stroke="#72757b" stroke-width="1.25"/>
<path d="M152.2 166.2L175 166.2L174.5 195L165 198.8L160 195L152.5 192.5L142 188.8L142.5 174.5L152.2 172.5Z" fill="#f2f2f5" stroke="#72757b" stroke-width="1.25"/>
<path d="M376.2 217.5L382.5 218.8L392.5 217.5L396.2 215L398.8 220L400 226.2L401.2 233.8L402.5 238.8L395 241.2L385 241.2L377.5 242.5L377.5 240L372.5 235L370 227.5L372.5 221.2Z" fill="#f2f2f5" stroke="#72757b" stroke-width="1.25"/>
<path d="M395.4 207.7L398.2 202.4L405.6 200.5L414.5 201.1L421.6 203.2L424.3 206.7L426 212.1L425.1 217.4L425 220L415 220L405 221.2L398.8 220L396.2 215Z" fill="#f2f2f5" stroke="#72757b" stroke-width="1.25"/>
<path d="M376.8 258.7L380 260L390 261.2L398.8 260L403.8 256.2L410 261.2L415 266.2L413.8 272.5L410 282.1L378.8 282Z" fill="#f2f2f5" stroke="#72757b" stroke-width="1.25"/>
<path d="M248.8 208.8L252.5 207.5L276.1 207L276.2 217.5L275 225L272.5 231.2L267.5 232.5L265.8 234.6L252.5 233.8L240 238L236 232L237.5 223L236 218.5L237.5 212.5Z" fill="#f2f2f5" stroke="#72757b" stroke-width="1.25"/>
<path d="M102.5 226.2L106.2 221.2L111.2 216.2L117.5 221.2L132.5 229.5L133.8 248.8L124 249.9L102 251.2L101.9 239.9Z" fill="#f2f2f5" stroke="#72757b" stroke-width="1.25"/>
<path d="M308 228.4L315 226.2L318.8 230L318.7 240L318.7 249.6L323.1 254.1L319.6 256.7L311.6 261.2L304.5 261.2L301 257.6L300 253.2L295.6 250.5L297.4 247L302.7 242.6L304.5 235.5Z" fill="#f2f2f5" stroke="#72757b" stroke-width="1.25"/>
<path d="M343.9 271.6L346.2 263.8L348.5 256.7L355.9 256.7L366.6 255.5L376.8 258.7L378.8 282L343.5 282Z" fill="#f2f2f5" stroke="#72757b" stroke-width="1.25"/>
<path d="M214.2 250.8L222.5 246.2L235 245L237 243L246.2 247.5L247.6 250.1L247.5 281.8L215 281.5Z" fill="#f2f2f5" stroke="#72757b" stroke-width="1.25"/>
<path d="M587.5 191.2L590 186.2L596.2 182.5L605 178.8L615 175L622.5 171.4L626.5 172.5L625.5 183.3L625.5 195.1L629.4 199L628.4 203.9L622.5 205.9L614.7 209.8L610.7 210.8L607.5 210L602.5 203.8L595 197.5Z" fill="#f2f2f5" stroke="#72757b" stroke-width="1.25"/>
<path d="M627.5 159.8L683.5 158.7L681.6 162.6L678.6 167.5L669.8 169.5L659.9 172.5L652.1 175.4L642.2 172.5L634.3 171.5L626.5 172.5L622.5 171.4L627.5 165Z" fill="#f1f2f5" stroke="#72757b" stroke-width="1.25"/>
<path d="M355.9 171.8L362.5 171.2L372.5 172.5L382 172.5L382.5 186.2L383.8 191.2L375 196.2L368.8 198.8L363.8 199.5L362.5 197.5L358.8 188.8L354.6 180.5L359 181.8L359.6 176.2Z" fill="#f1f2f5" stroke="#72757b" stroke-width="1.25"/>
<path d="M186.2 250L197.5 251.2L214.2 250.8L215 281.5L187 281.2L186.2 252.5Z" fill="#f1f2f5" stroke="#72757b" stroke-width="1.25"/>
<path d="M112.3 166.5L152.2 166.2L152.2 172.5L142.5 174.5L142 188.8L126.2 189.5L104.5 189.5L104.3 185.5L107 181L109.6 174.8Z" fill="#f1f2f5" stroke="#72757b" stroke-width="1.25"/>
<path d="M126.2 189.5L142 188.8L152.5 192.5L160 195L165 198.8L162.5 201.2L161.2 221.2L145 222.5L131.2 213.8L126.5 207L127 202.5Z" fill="#f1f2f4" stroke="#72757b" stroke-width="1.25"/>
<path d="M489.3 191.5L497.4 187.8L503.6 188.7L511.6 186.9L517.8 184.3L523.1 183.4L525.8 188.7L519.6 193.1L514.3 198.4L510.7 203.8L506.3 207.3L501.8 212.2L498.3 207.4L495 201.5L493 196.7Z" fill="#f1f2f4" stroke="#72757b" stroke-width="1.25"/>
<path d="M545.3 197.6L549.7 194.9L555.9 193.1L563 191.3L570.1 192.2L579.9 194.9L577.2 201.1L576.3 207.3L575.4 213.5L568.3 212.1L559.5 209.1L552.4 206.4L547.1 203.8Z" fill="#f1f2f4" stroke="#72757b" stroke-width="1.25"/>
<path d="M350 231.2L353.8 225L362.5 231.2L370 227.5L372.5 235L377.5 240L377.5 242.5L376.2 255L376.8 258.7L366.6 255.5L355.9 256.7L348.5 256.7L347.9 251.4L348.8 247.5L350 240Z" fill="#f1f2f4" stroke="#72757b" stroke-width="1.25"/>
<path d="M66.3 238.1L64.4 235.1L68 231.6L65.3 226.5L70.6 224.5L74.5 226.5L77.7 221L83 218.3L79.5 216.5L81.3 213L85 210.6L88.4 211.2L97.2 211.2L107.5 211.2L111.2 216.2L106.2 221.2L102.5 226.2L101.9 239.9L99.1 236.3L90.3 232.8L81.4 231.9L72.6 233.7Z" fill="#f1f2f4" stroke="#72757b" stroke-width="1.25"/>
<path d="M247.6 250.1L258.8 250L267.5 247.5L275 247.5L275 281.8L247.5 281.8Z" fill="#f1f1f4" stroke="#72757b" stroke-width="1.25"/>
<path d="M626.5 172.5L634.3 171.5L642.2 172.5L652.1 175.4L649.1 186.2L646.2 191.2L640.2 195.1L634.3 198L629.4 199L625.5 195.1L625.5 183.3Z" fill="#f1f1f4" stroke="#72757b" stroke-width="1.25"/>
<path d="M482.3 234L482.3 227.8L484.1 231.3L490.3 230.5L497.4 231.3L504.5 232.2L509.8 233.1L513.3 236.7L518.7 238.4L523.1 243.2L521.3 248.2L518.7 251.7L517.8 257.1L513.3 260.6L506.2 263.3L499.1 265L491.2 262L483.2 261L489.4 258.8L491.2 253.5L489.4 246.4L485.9 239.3Z" fill="#f1f1f4" stroke="#72757b" stroke-width="1.25"/>
<path d="M437.6 193.4L442.9 192.6L448.2 194L451.7 192.6L456.2 194.3L460.6 197L465 201.4L467.7 206.7L469 211.8L460.1 218.9L453 221.6L450.4 223.4L437.5 223.8L430 223.8L426.2 223.8L425 220L425.1 217.4L426 212.1L424.3 206.7L421.6 203.2L426 197.9L430.5 196.5Z" fill="#f0f1f4" stroke="#72757b" stroke-width="1.25"/>
<path d="M514.3 217.9L519.6 217.1L525.8 214.4L532.9 215.3L539.1 214.4L543.5 221.5L547.1 229.5L548.8 236.9L541.7 239.2L532.9 241.9L526.7 242.8L523.1 243.2L518.7 238.4L513.3 236.7L509.8 233.1L508.9 227.8L508 221.6L505.4 217.2L508 216.2Z" fill="#f0f1f4" stroke="#72757b" stroke-width="1.25"/>
<path d="M253.8 180L267.5 180L272.5 177.5L277.5 182.5L279.5 190L280 201.2L276.1 207L252.5 207.5L248.8 208.8L250 197.5L251.2 188.8Z" fill="#f0f1f4" stroke="#72757b" stroke-width="1.25"/>
<path d="M282 170L290 175L298 177.2L296.2 180.5L294.3 184.9L293.1 191.1L292.4 196.7L290 198.6L288.1 201L283.8 201.2L280 201.2L279.5 190L277.5 182.5L272.5 177.5L277.5 173.8Z" fill="#eff0f4" stroke="#72757b" stroke-width="1.25"/>
<path d="M474.3 233.1L477.9 231.3L482.3 234L485.9 239.3L489.4 246.4L491.2 253.5L489.4 258.8L483.2 261L474.3 262.4L468.1 262L463.7 259.7L457.5 256.2L459.3 251.7L462.8 246.4L467.2 241.1L471.7 235.8Z" fill="#eff0f4" stroke="#72757b" stroke-width="1.25"/>
<path d="M88.4 211.2L85 210.6L83.9 208.5L83 203.2L86.6 197.9L89.3 194.3L86.6 190.5L91 189L98.1 189.9L104.5 189.5L126.2 189.5L127 202.5L126.5 207L111.2 216.2L107.5 211.2L97.2 211.2Z" fill="#eff0f4" stroke="#72757b" stroke-width="1.25"/>
<path d="M571.9 183.4L577.2 179.8L576.8 175.2L582.5 177.5L586.2 181.2L590 186.2L587.5 191.2L582.5 195L579.9 194.9L570.1 192.2L563 191.3L565.7 187.8Z" fill="#eff0f4" stroke="#72757b" stroke-width="1.25"/>
<path d="M145 222.5L161.2 221.2L170 220L168.8 237.5L165 240L158.8 245L150.3 249.5L133.8 248.8L132.5 229.5L140 226.2Z" fill="#eff0f4" stroke="#72757b" stroke-width="1.25"/>
<path d="M492.1 222.5L494.7 218L498.3 214.5L501.8 212.2L505.4 217.2L508 221.6L508.9 227.8L509.8 233.1L504.5 232.2L497.4 231.3L490.3 230.5L484.1 231.3L482.3 227.8L486.7 225.1Z" fill="#eef0f4" stroke="#72757b" stroke-width="1.25"/>
<path d="M450.4 223.4L453 221.6L460.1 218.9L469 211.8L467.2 216.3L464.6 221.6L461.9 224.3L463.7 227.8L460.1 230.5L461 234L457.5 236.7L458.4 240.2L454.8 242.9L453.9 246.4L449.5 248.2L446.8 251.7L440.6 250L433.5 248.2L437.1 242L443.3 233.1Z" fill="#eef0f4" stroke="#72757b" stroke-width="1.25"/>
<path d="M88.8 251.2L102 251.2L124 249.9L124.5 281.2L88.8 281.3Z" fill="#eef0f4" stroke="#72757b" stroke-width="1.25"/>
<path d="M276.2 217.5L290 220L300 222.5L308 228.4L304.5 235.5L302.7 242.6L297.4 247L295.6 250.5L285 248.8L275 247.5L270 242.5L265.8 234.6L267.5 232.5L272.5 231.2L275 225Z" fill="#eeeff4" stroke="#72757b" stroke-width="1.25"/>
<path d="M124 249.9L133.8 248.8L150.3 249.5L155.8 262.5L155.8 281.2L124.5 281.2Z" fill="#eeeff4" stroke="#72757b" stroke-width="1.25"/>
<path d="M352 155.5L383.8 157.5L382.5 166.2L382 172.5L372.5 172.5L362.5 171.2L355.9 171.8L351.5 168.7Z" fill="#eceef3" stroke="#72757b" stroke-width="1.25"/>
<path d="M242.5 156.2L282.5 156.2L282 170L277.5 173.8L272.5 177.5L267.5 180L253.8 180L247.5 178.8L246.2 171.2Z" fill="#ebedf2" stroke="#72757b" stroke-width="1.25"/>
<path d="M318.8 230L322.5 228.8L330 230L336.2 233.8L342.5 232.5L350 231.2L350 240L348.8 247.5L347.9 251.4L343.5 254.1L336.4 257.1L327.6 255.9L323.1 254.1L318.7 249.6L318.7 240Z" fill="#eaedf2" stroke="#72757b" stroke-width="1.25"/>
<path d="M448.6 256.2L452.2 258.8L457.5 256.2L463.7 259.7L468.1 262L468.1 267.7L466.3 274.8L464.6 282.2L447.7 282.2L446 276.6L444.2 269.5L446 265L447.7 259.7Z" fill="#e9ecf2" stroke="#72757b" stroke-width="1.25"/>
<path d="M56.6 252.3L52.2 250.5L49.5 247.9L52.2 244.3L56.6 246.1L59.3 241.7L63.7 242.6L66.3 238.1L72.6 233.7L81.4 231.9L90.3 232.8L99.1 236.3L101.9 239.9L102 251.2L88.8 251.2Z" fill="#e8ebf1" stroke="#72757b" stroke-width="1.25"/>
<path d="M539.1 214.4L544.4 209.1L547.1 203.8L552.4 206.4L559.5 209.1L568.3 212.1L575.4 213.5L577.2 218.8L576.3 225L571.9 230.4L565.7 234.8L557.7 237.4L548.8 236.9L547.1 229.5L543.5 221.5Z" fill="#e8ebf1" stroke="#72757b" stroke-width="1.25"/>
<path d="M426.2 223.8L430 223.8L437.5 223.8L450.4 223.4L443.3 233.1L437.1 242L433.5 248.2L428.8 251.2L422.5 247.5L417.5 243.8L411.2 240L415 236.2L420 230Z" fill="#e8ebf1" stroke="#72757b" stroke-width="1.25"/>
<path d="M97.2 166.3L112.3 166.5L109.6 174.8L107 181L104.3 185.5L104.5 189.5L98.1 189.9L91 189L84.8 186.3L91 184.6L96.3 181.9L91 179.3L95.5 176.6L99 173L96.3 169.5Z" fill="#e7eaf1" stroke="#72757b" stroke-width="1.25"/>
<path d="M282.5 156.2L325 156.2L323.8 163.8L317.5 171.2L312.1 175.9L309.9 174.7L306.7 177.4L302 176.3L298 177.2L290 175L282 170Z" fill="#e5e9f0" stroke="#72757b" stroke-width="1.25"/>
<path d="M322.9 186.4L327.3 183L332.2 180.5L338.5 178.7L342.2 180.5L347.8 178.7L349.7 181.1L354.6 180.5L358.8 188.8L362.5 197.5L363.8 199.5L365.5 207L356.2 207.5L350 206.2L340 203.8L332.5 201.2L328.5 198.6L326.6 196.1L323.5 191.1Z" fill="#e5e9f0" stroke="#72757b" stroke-width="1.25"/>
<path d="M382.5 186.2L388.8 187.5L400 186.2L409.2 182.8L414.5 186.3L421.6 189L430.5 191.7L437.6 193.4L430.5 196.5L426 197.9L421.6 203.2L414.5 201.1L405.6 200.5L398.2 202.4L393.8 200L386.2 196.2L383.8 191.2Z" fill="#e5e9f0" stroke="#72757b" stroke-width="1.25"/>
<path d="M525.8 188.7L530.2 191.3L537.3 192.2L543.5 191.3L545.3 197.6L547.1 203.8L544.4 209.1L539.1 214.4L532.9 215.3L525.8 214.4L519.6 217.1L514.3 217.9L508 216.2L501.8 212.2L506.3 207.3L510.7 203.8L514.3 198.4L519.6 193.1Z" fill="#e0e4ed" stroke="#72757b" stroke-width="1.25"/>
<path d="M280 201.2L283.8 201.2L288.1 201L288.7 204.8L292.4 204.2L296.2 201.7L302.4 202.3L309.9 204.2L317.3 206L320.4 206.6L322.5 215L320 222.5L315 226.2L308 228.4L300 222.5L290 220L276.2 217.5L276.1 207Z" fill="#dee3ec" stroke="#72757b" stroke-width="1.25"/>
<path d="M325 156.2L352 155.5L351.5 168.7L348.4 173.7L347.8 178.7L342.2 180.5L338.5 178.7L332.2 180.5L327.3 183L322.9 186.4L321 184.9L317.3 180.5L314.2 178.7L312.1 175.9L317.5 171.2L323.8 163.8Z" fill="#d5dde9" stroke="#72757b" stroke-width="1.25"/>
<path d="M351.5 168.7L355.9 171.8L359.6 176.2L359 181.8L354.6 180.5L349.7 181.1L347.8 178.7L348.4 173.7Z" fill="#d3dbe9" stroke="#72757b" stroke-width="1.25"/>
<path d="M428.8 251.2L433.5 248.2L440.6 250L446.8 251.7L448.6 256.2L447.7 259.7L446 265L444.2 269.5L446 276.6L447.7 282.2L410 282.1L413.8 272.5L415 266.2L420 263.8L425 257.5Z" fill="#bbc7dc" stroke="#72757b" stroke-width="1.25"/>
<path d="M320.4 206.6L322.9 202.9L326 201L328.5 198.6L332.5 201.2L340 203.8L350 206.2L356.2 207.5L357.5 215L353.8 225L350 231.2L342.5 232.5L336.2 233.8L330 230L322.5 228.8L318.8 230L315 226.2L320 222.5L322.5 215Z" fill="#bac6dc" stroke="#72757b" stroke-width="1.25"/>
<path d="M296.2 180.5L298 177.2L302 176.3L306.7 177.4L309.9 174.7L312.1 175.9L314.2 178.7L317.3 180.5L321 184.9L322.9 186.4L323.5 191.1L326.6 196.1L328.5 198.6L326 201L322.9 202.9L320.4 206.6L317.3 206L309.9 204.2L302.4 202.3L296.2 201.7L292.4 204.2L288.7 204.8L288.1 201L290 198.6L292.4 196.7L293.1 191.1L294.3 184.9Z" fill="#45628f" stroke="#72757b" stroke-width="1.25"/>
<path d="M56.6 252.3L88.8 251.2L88.8 281.3L37.4 281.9L39.8 278.9L46 278L47.7 274.5L53.9 272.7L52.2 270L49.5 268.3L53 265.6L49.5 262.9L47.7 260.3L53 258.5Z" fill="#3e5a88" stroke="#72757b" stroke-width="1.25"/>
</g>
<g font-size="8.7" text-anchor="middle" fill="#2a2a2a" stroke="#2a2a2a" stroke-width="0.18">
<text x="72.0" y="270.1" fill="#f2f4f8" stroke="#f2f4f8">10,028</text>
<text x="106.2" y="270.1">273</text>
<text x="138.8" y="270.1">299</text>
<text x="170.0" y="271.1">58</text>
<text x="200.8" y="270.1">93</text>
<text x="80.0" y="246.1">607</text>
<text x="93.0" y="226.1">119</text>
<text x="116.2" y="240.6">71</text>
<text x="129.2" y="223.6">31</text>
<text x="150.5" y="238.6">247</text>
<text x="167.5" y="251.8">23</text>
<text x="185.0" y="235.1">32</text>
<text x="206.2" y="238.1">21</text>
<text x="104.5" y="203.1">214</text>
<text x="143.0" y="206.8">100</text>
<text x="180.8" y="208.6">39</text>
<text x="104.5" y="186.1">690</text>
<text x="127.5" y="180.6">94</text>
<text x="158.2" y="186.1">60</text>
<text x="195.0" y="183.1">42</text>
<text x="210.0" y="201.1">12</text>
<text x="227.5" y="171.8">21</text>
<text x="262.5" y="171.8">479</text>
<text x="303.0" y="168.1">776</text>
<text x="331.2" y="171.1">1,417</text>
<text x="368.0" y="168.1">394</text>
<text x="360.0" y="178.1">1,485</text>
<text x="372.0" y="188.1">90</text>
<text x="241.2" y="186.1">12</text>
<text x="286.2" y="186.1">202</text>
<text x="307.5" y="193.1" fill="#f2f4f8" stroke="#f2f4f8">9,237</text>
<text x="345.0" y="197.6">779</text>
<text x="264.5" y="196.8">175</text>
<text x="232.0" y="204.3">22</text>
<text x="299.5" y="216.1">1,013</text>
<text x="335.8" y="220.1">2,528</text>
<text x="255.5" y="223.6">70</text>
<text x="365.0" y="223.6">27</text>
<text x="227.0" y="236.1">31</text>
<text x="286.2" y="238.1">287</text>
<text x="253.8" y="245.6">6</text>
<text x="308.8" y="248.1">71</text>
<text x="333.0" y="246.8">513</text>
<text x="362.5" y="246.8">108</text>
<text x="343.0" y="262.6">7</text>
<text x="230.0" y="266.9">77</text>
<text x="261.2" y="266.9">124</text>
<text x="289.5" y="269.4">50</text>
<text x="323.8" y="271.9">56</text>
<text x="361.2" y="271.9">75</text>
<text x="404.2" y="168.1">16</text>
<text x="432.5" y="165.6">6</text>
<text x="393.8" y="181.1">26</text>
<text x="422.5" y="181.1">56</text>
<text x="453.0" y="176.8">17</text>
<text x="482.0" y="173.1">14</text>
<text x="511.2" y="176.8">36</text>
<text x="410.5" y="196.1">783</text>
<text x="473.8" y="200.1">24</text>
<text x="507.5" y="200.1">102</text>
<text x="380.0" y="210.1">52</text>
<text x="410.5" y="213.1">63</text>
<text x="447.0" y="211.8">168</text>
<text x="481.2" y="221.8">44</text>
<text x="498.0" y="229.3">261</text>
<text x="385.0" y="232.6">62</text>
<text x="411.2" y="232.6">7</text>
<text x="424.5" y="241.8">617</text>
<text x="451.2" y="239.3">269</text>
<text x="452.0" y="253.1">32</text>
<text x="473.8" y="250.6">210</text>
<text x="504.5" y="251.1">132</text>
<text x="392.5" y="253.1">58</text>
<text x="416.2" y="259.4">24</text>
<text x="397.5" y="273.1">64</text>
<text x="432.0" y="271.9">2,466</text>
<text x="455.5" y="272.6">550</text>
<text x="483.2" y="273.1">41</text>
<text x="545.8" y="173.1">25</text>
<text x="577.0" y="168.1">3</text>
<text x="603.0" y="175.1">51</text>
<text x="654.2" y="170.1">89</text>
<text x="534.2" y="186.1">12</text>
<text x="560.0" y="188.1">35</text>
<text x="578.0" y="193.1">220</text>
<text x="608.0" y="196.8">85</text>
<text x="637.0" y="186.1">131</text>
<text x="665.0" y="186.8">54</text>
<text x="636.2" y="204.3">54</text>
<text x="532.0" y="206.8">967</text>
<text x="561.2" y="205.1">102</text>
<text x="590.0" y="213.1">58</text>
<text x="558.0" y="226.8">608</text>
<text x="527.0" y="233.6">173</text>
<text x="686.5" y="173.0">36</text>
</g>
<rect x="4" y="300" width="732" height="18.8" fill="#1b4a84"/>
<text x="305" y="315" font-size="13" fill="#f4f6fa" stroke="#f4f6fa" stroke-width="0.25" textLength="130.8" lengthAdjust="spacingAndGlyphs">Daily Counts of Cases</text>
<line x1="4" y1="324.2" x2="736" y2="324.2" stroke="#d2d2d2" stroke-width="1"/>
<rect x="633" y="324.3" width="51.8" height="141.7" fill="#dcdcdc"/>
<line x1="56.5" y1="414.75" x2="684.8" y2="414.75" stroke="#f0f0f0" stroke-width="1"/>
<line x1="56.5" y1="363.5" x2="684.8" y2="363.5" stroke="#f0f0f0" stroke-width="1"/>
<line x1="56.2" y1="324" x2="56.2" y2="466" stroke="#d4d4d4" stroke-width="1"/>
<path d="M98.00 466.0v-0.6h4v0.6zM103.20 466.0v-0.8h4v0.8zM108.40 466.0v-1h4v1zM113.60 466.0v-3h4v3zM118.80 466.0v-3h4v3zM124.00 466.0v-3h4v3zM129.20 466.0v-8h4v8zM134.40 466.0v-14h4v14zM139.60 466.0v-16.5h4v16.5zM144.80 466.0v-22h4v22zM150.00 466.0v-26h4v26zM155.20 466.0v-12h4v12zM160.40 466.0v-10.5h4v10.5zM165.60 466.0v-29h4v29zM170.80 466.0v-22h4v22zM176.00 466.0v-25.5h4v25.5zM181.20 466.0v-27.5h4v27.5zM186.40 466.0v-25h4v25zM191.60 466.0v-24h4v24zM196.80 466.0v-12.5h4v12.5zM202.00 466.0v-36h4v36zM207.20 466.0v-29h4v29zM212.40 466.0v-27h4v27zM217.60 466.0v-24.5h4v24.5zM222.80 466.0v-25h4v25zM228.00 466.0v-12h4v12zM233.20 466.0v-8h4v8zM238.40 466.0v-29h4v29zM243.60 466.0v-20h4v20zM248.80 466.0v-22.5h4v22.5zM254.00 466.0v-17h4v17zM259.20 466.0v-20.5h4v20.5zM264.40 466.0v-12h4v12zM269.60 466.0v-5.5h4v5.5zM274.80 466.0v-35.5h4v35.5zM280.00 466.0v-23h4v23zM285.20 466.0v-31h4v31zM290.40 466.0v-23h4v23zM295.60 466.0v-30h4v30zM300.80 466.0v-33.5h4v33.5zM306.00 466.0v-20h4v20zM311.20 466.0v-70h4v70zM316.40 466.0v-36h4v36zM321.60 466.0v-41h4v41zM326.80 466.0v-27.5h4v27.5zM332.00 466.0v-52h4v52zM337.20 466.0v-22h4v22zM342.40 466.0v-12h4v12zM347.60 466.0v-43h4v43zM352.80 466.0v-108h4v108zM358.00 466.0v-92h4v92zM363.20 466.0v-37h4v37zM368.40 466.0v-39h4v39zM373.60 466.0v-16h4v16zM378.80 466.0v-10h4v10zM384.00 466.0v-36h4v36zM389.20 466.0v-45.5h4v45.5zM394.40 466.0v-67.5h4v67.5zM399.60 466.0v-69.5h4v69.5zM404.80 466.0v-31h4v31zM410.00 466.0v-8h4v8zM415.20 466.0v-6h4v6zM420.40 466.0v-39.5h4v39.5zM425.60 466.0v-38h4v38zM430.80 466.0v-39.5h4v39.5zM436.00 466.0v-37.5h4v37.5zM441.20 466.0v-34h4v34zM446.40 466.0v-20h4v20zM451.60 466.0v-10h4v10zM456.80 466.0v-72h4v72zM462.00 466.0v-47h4v47zM467.20 466.0v-57h4v57zM472.40 466.0v-53h4v53zM477.60 466.0v-44.5h4v44.5zM482.80 466.0v-19h4v19zM488.00 466.0v-14h4v14zM493.20 466.0v-15h4v15zM498.40 466.0v-83h4v83zM503.60 466.0v-67h4v67zM508.80 466.0v-80.5h4v80.5zM514.00 466.0v-67h4v67zM519.20 466.0v-27h4v27zM524.40 466.0v-18h4v18zM529.60 466.0v-70h4v70zM534.80 466.0v-52.5h4v52.5zM540.00 466.0v-66.5h4v66.5zM545.20 466.0v-68h4v68zM550.40 466.0v-50h4v50zM555.60 466.0v-33h4v33zM560.80 466.0v-24h4v24zM566.00 466.0v-85.5h4v85.5zM571.20 466.0v-72h4v72zM576.40 466.0v-75.5h4v75.5zM581.60 466.0v-65h4v65zM586.80 466.0v-72.5h4v72.5zM592.00 466.0v-40.5h4v40.5zM597.20 466.0v-22.5h4v22.5zM602.40 466.0v-101h4v101zM607.60 466.0v-88h4v88zM612.80 466.0v-104h4v104zM618.00 466.0v-92.5h4v92.5zM623.20 466.0v-111h4v111zM628.40 466.0v-50h4v50zM633.60 466.0v-37.5h4v37.5zM638.80 466.0v-134.5h4v134.5zM644.00 466.0v-107h4v107zM649.20 466.0v-95h4v95zM654.40 466.0v-93h4v93zM659.60 466.0v-42h4v42zM664.80 466.0v-9.5h4v9.5zM670.00 466.0v-5h4v5zM675.20 466.0v-3h4v3z" fill="#1f3864"/>
<line x1="4" y1="466" x2="736" y2="466" stroke="#cfcfcf" stroke-width="1"/>
<polyline fill="none" stroke="#b3161e" stroke-width="2.5" stroke-linejoin="round" points="55.5,466.0 58.1,466.0 63.3,466.0 68.5,466.0 73.7,466.0 78.9,466.0 84.1,466.0 89.3,466.0 94.5,466.0 99.7,466.0 104.9,466.0 110.1,465.9 115.3,465.8 120.5,465.7 125.7,465.7 130.9,465.4 136.1,465.0 141.3,464.5 146.5,463.8 151.7,463.0 156.9,462.7 162.1,462.3 167.3,461.5 172.5,460.8 177.7,460.0 182.9,459.2 188.1,458.4 193.3,457.7 198.5,457.3 203.7,456.2 208.9,455.4 214.1,454.5 219.3,453.8 224.5,453.0 229.7,452.7 234.9,452.4 240.1,451.6 245.3,450.9 250.5,450.3 255.7,449.7 260.9,449.1 266.1,448.8 271.3,448.6 276.5,447.5 281.7,446.8 286.9,445.9 292.1,445.2 297.3,444.3 302.5,443.3 307.7,442.7 312.9,440.5 318.1,439.4 323.3,438.2 328.5,437.4 333.7,435.8 338.9,435.1 344.1,434.7 349.3,433.4 354.5,430.2 359.7,427.4 364.9,426.3 370.1,425.1 375.3,424.6 380.5,424.3 385.7,423.2 390.9,421.8 396.1,419.8 401.3,417.7 406.5,416.7 411.7,416.5 416.9,416.3 422.1,415.1 427.3,413.9 432.5,412.7 437.7,411.6 442.9,410.6 448.1,410.0 453.3,409.7 458.5,407.5 463.7,406.1 468.9,404.3 474.1,402.7 479.3,401.4 484.5,400.8 489.7,400.4 494.9,399.9 500.1,397.4 505.3,395.4 510.5,392.9 515.7,390.9 520.9,390.1 526.1,389.5 531.3,387.4 536.5,385.8 541.7,383.8 546.9,381.7 552.1,380.2 557.3,379.2 562.5,378.5 567.7,375.9 572.9,373.7 578.1,371.4 583.3,369.5 588.5,367.3 593.7,366.0 598.9,365.3 604.1,362.3 609.3,359.6 614.5,356.5 619.7,353.7 624.9,350.3 630.1,348.8 635.3,347.6 640.5,343.6 645.7,340.3 650.9,337.4 656.1,334.6 661.3,333.3 666.5,333.0 671.7,332.9 676.9,332.8 682.1,332.8 684.6,332.8"/>
<rect x="634.3" y="344" width="50" height="71" fill="#d9d9d9" fill-opacity="0.86"/>
<g font-size="8.7" text-anchor="middle" fill="#505050" stroke="#505050" stroke-width="0.2" fill-opacity="0.9" stroke-opacity="0.9">
<text x="658.8" y="356.0">Illness that</text>
<text x="658.8" y="367.1">began</text>
<text x="658.8" y="378.2">during this</text>
<text x="658.8" y="389.3">time may</text>
<text x="658.8" y="400.4">not yet be</text>
<text x="658.8" y="411.5">reported</text>
</g>
<g font-size="10.8" fill="#666">
<text x="26.6" y="368.3" textLength="24.6" lengthAdjust="spacingAndGlyphs">1000</text>
<text x="32.6" y="419.9" textLength="18.6" lengthAdjust="spacingAndGlyphs">500</text>
<text x="44.4" y="463.9" textLength="6.8" lengthAdjust="spacingAndGlyphs">0</text>
<text x="708.5" y="348.3" text-anchor="end">40K</text>
<text x="708.5" y="378.2" text-anchor="end">30K</text>
<text x="708.5" y="408.9" text-anchor="end">20K</text>
<text x="708.5" y="440.3" text-anchor="end">10K</text>
<text x="708.5" y="463.6" text-anchor="end">0K</text>
<text x="57.5" y="482.4">Mar 1</text>
<text x="107.8" y="482.4" text-anchor="middle">Mar 11</text>
<text x="159.8" y="482.4" text-anchor="middle">Mar 21</text>
<text x="211.8" y="482.4" text-anchor="middle">Mar 31</text>
<text x="263.8" y="482.4" text-anchor="middle">Apr 10</text>
<text x="315.8" y="482.4" text-anchor="middle">Apr 20</text>
<text x="367.8" y="482.4" text-anchor="middle">Apr 30</text>
<text x="419.8" y="482.4" text-anchor="middle">May 10</text>
<text x="471.8" y="482.4" text-anchor="middle">May 20</text>
<text x="523.8" y="482.4" text-anchor="middle">May 30</text>
<text x="575.8" y="482.4" text-anchor="middle">Jun 9</text>
<text x="627.8" y="482.4" text-anchor="middle">Jun 19</text>
<text x="683.2" y="482.4" text-anchor="end">Jun 29</text>
</g>
<text x="291.5" y="501" font-size="10.7" fill="#333" stroke="#333" stroke-width="0.2" textLength="156.6" lengthAdjust="spacingAndGlyphs">Specimen Collection Date [2020]</text>
<text transform="translate(17,396) rotate(-90)" font-size="10.7" fill="#333" stroke="#333" stroke-width="0.2" text-anchor="middle" textLength="50.6" lengthAdjust="spacingAndGlyphs">New Cases</text>
<text transform="translate(729.2,395.6) rotate(-90)" font-size="10.7" fill="#333" stroke="#333" stroke-width="0.2" text-anchor="middle">Total Cases</text>
</svg>
</body></html>
